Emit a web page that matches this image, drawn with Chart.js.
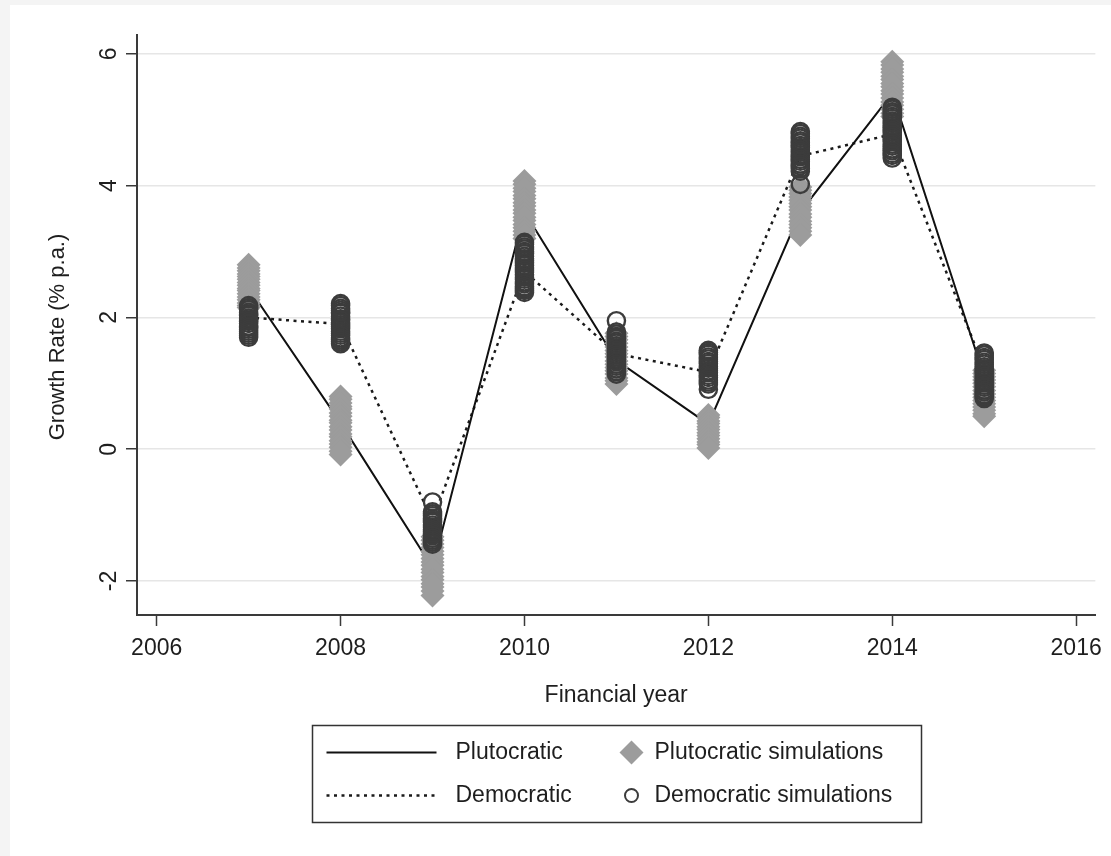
<!DOCTYPE html>
<html>
<head>
<meta charset="utf-8">
<script src="https://cdn.jsdelivr.net/npm/chart.js@4.4.0/dist/chart.umd.min.js"></script>
<style>
  html, body { margin: 0; padding: 0; background: #fff; }
  canvas { display: block; }
</style>
</head>
<body>
<canvas id="growth" width="1111" height="856"></canvas>
<script>
// Financial years and the two weighting schemes (growth, % p.a.)
const years = [2007, 2008, 2009, 2010, 2011, 2012, 2013, 2014, 2015];
const plutocratic = [2.45, 0.40, -1.80, 3.60, 1.35, 0.38, 3.60, 5.40, 1.10];
const democratic  = [2.00, 1.90, -1.08, 2.70, 1.45, 1.17, 4.45, 4.78, 1.22];

// Simulated growth rates, one list per financial year
const plutocraticSimulations = [
  [2.80, 2.75, 2.71, 2.66, 2.62, 2.58, 2.53, 2.49, 2.44, 2.41, 2.36, 2.31, 2.27, 2.22, 2.18, 2.15],
  [0.80, 0.76, 0.70, 0.65, 0.61, 0.55, 0.50, 0.44, 0.40, 0.34, 0.29, 0.23, 0.19, 0.13, 0.08, 0.03, -0.03, -0.08],
  [-1.33, -1.38, -1.44, -1.49, -1.55, -1.60, -1.66, -1.71, -1.76, -1.82, -1.87, -1.93, -1.98, -2.04, -2.09, -2.15, -2.22],
  [4.07, 4.02, 3.96, 3.91, 3.85, 3.80, 3.74, 3.69, 3.63, 3.58, 3.52, 3.47, 3.41, 3.36, 3.31, 3.25, 3.20],
  [1.76, 1.71, 1.66, 1.61, 1.55, 1.50, 1.45, 1.40, 1.34, 1.29, 1.24, 1.19, 1.14, 1.08, 1.04, 0.99],
  [0.52, 0.48, 0.43, 0.39, 0.34, 0.30, 0.25, 0.21, 0.16, 0.11, 0.07, 0.02],
  [3.98, 3.93, 3.88, 3.83, 3.78, 3.73, 3.68, 3.63, 3.57, 3.52, 3.46, 3.41, 3.36, 3.31, 3.25],
  [5.88, 5.83, 5.77, 5.72, 5.66, 5.61, 5.55, 5.50, 5.44, 5.39, 5.33, 5.27, 5.22, 5.16, 5.10, 5.05],
  [1.20, 1.15, 1.10, 1.05, 1.00, 0.95, 0.89, 0.84, 0.79, 0.74, 0.69, 0.64, 0.59, 0.54, 0.50]
];
const democraticSimulations = [
  [2.18, 2.15, 2.12, 2.08, 2.05, 2.03, 1.99, 1.96, 1.94, 1.91, 1.87, 1.85, 1.82, 1.79, 1.76, 1.73, 1.70],
  [2.21, 2.18, 2.14, 2.11, 2.08, 2.06, 2.02, 1.98, 1.96, 1.92, 1.89, 1.86, 1.83, 1.79, 1.76, 1.73, 1.69, 1.66, 1.63, 1.60],
  [-0.80, -0.95, -0.98, -1.01, -1.05, -1.08, -1.11, -1.15, -1.18, -1.22, -1.25, -1.28, -1.31, -1.35, -1.38, -1.41, -1.44],
  [3.14, 3.11, 3.07, 3.04, 3.00, 2.97, 2.93, 2.89, 2.86, 2.83, 2.79, 2.75, 2.72, 2.69, 2.65, 2.61, 2.58, 2.54, 2.51, 2.47, 2.44, 2.41, 2.38],
  [1.95, 1.78, 1.75, 1.71, 1.68, 1.64, 1.61, 1.57, 1.54, 1.50, 1.47, 1.43, 1.40, 1.36, 1.33, 1.29, 1.26, 1.22, 1.18, 1.14],
  [1.50, 1.47, 1.44, 1.40, 1.37, 1.33, 1.30, 1.26, 1.23, 1.19, 1.16, 1.12, 1.09, 1.05, 1.02, 0.99, 0.91],
  [4.82, 4.79, 4.75, 4.72, 4.68, 4.65, 4.61, 4.58, 4.54, 4.51, 4.47, 4.44, 4.40, 4.37, 4.33, 4.30, 4.26, 4.22, 4.02],
  [5.19, 5.16, 5.12, 5.09, 5.05, 5.02, 4.98, 4.95, 4.91, 4.88, 4.84, 4.81, 4.77, 4.74, 4.70, 4.67, 4.63, 4.60, 4.56, 4.53, 4.49, 4.46, 4.42],
  [1.46, 1.43, 1.39, 1.36, 1.32, 1.29, 1.25, 1.22, 1.18, 1.15, 1.11, 1.08, 1.04, 1.01, 0.97, 0.94, 0.90, 0.87, 0.83, 0.80, 0.77]
];

// Axis ticks and titles
const xTicks = [2006, 2008, 2010, 2012, 2014, 2016];
const yTicks = [-2, 0, 2, 4, 6];
const xTitle = 'Financial year';
const yTitle = 'Growth Rate (% p.a.)';

const FONT = '"Liberation Sans", Arial, sans-serif';
const TEXT = '#1e1e1e';
const AXIS = '#3a3a3a';

const toPoints = (vals) => years.map((yr, i) => ({ x: yr, y: vals[i] }));
const simPoints = (lists) => lists.flatMap((vals, i) => vals.map(v => ({ x: years[i], y: v })));

// Light frame around the graph region
const framePlugin = {
  id: 'frame',
  beforeDraw(chart) {
    const { ctx, width, height } = chart;
    ctx.save();
    ctx.fillStyle = '#f4f4f4';
    ctx.fillRect(0, 0, width, height);
    ctx.fillStyle = '#ffffff';
    ctx.fillRect(10, 5, width - 10, height - 5);
    ctx.restore();
  }
};

// Vertical y-axis title, set a little below the middle of the plot region
const yTitlePlugin = {
  id: 'yTitle',
  afterDraw(chart) {
    const { ctx, chartArea } = chart;
    ctx.save();
    ctx.translate(58, (chartArea.top + chartArea.bottom) / 2 + 12);
    ctx.rotate(-Math.PI / 2);
    ctx.fillStyle = TEXT;
    ctx.font = '22px ' + FONT;
    ctx.textAlign = 'center';
    ctx.textBaseline = 'middle';
    ctx.fillText(yTitle, 0, 0);
    ctx.restore();
  }
};

// Boxed two-column legend below the x-axis title
const boxLegendPlugin = {
  id: 'boxLegend',
  afterDraw(chart) {
    const { ctx, chartArea } = chart;
    const ds = label => chart.data.datasets.find(d => d.label === label);
    const w = 609, h = 97;
    const x0 = Math.round((chartArea.left + chartArea.right) / 2 - w / 2) + 0.5;
    const y0 = 725.5;
    ctx.save();
    ctx.strokeStyle = '#333';
    ctx.lineWidth = 1.5;
    ctx.strokeRect(x0, y0, w, h);

    const r1 = y0 + 27, r2 = y0 + 70;
    const plu = ds('Plutocratic'), dem = ds('Democratic');
    const pSim = ds('Plutocratic simulations'), dSim = ds('Democratic simulations');

    // line samples
    ctx.lineWidth = plu.borderWidth;
    ctx.strokeStyle = plu.borderColor;
    ctx.setLineDash([]);
    ctx.beginPath(); ctx.moveTo(x0 + 14, r1); ctx.lineTo(x0 + 124, r1); ctx.stroke();
    ctx.lineWidth = dem.borderWidth;
    ctx.strokeStyle = dem.borderColor;
    ctx.setLineDash(dem.borderDash);
    ctx.beginPath(); ctx.moveTo(x0 + 14, r2); ctx.lineTo(x0 + 124, r2); ctx.stroke();
    ctx.setLineDash([]);

    // marker samples
    const mx = x0 + 319;
    ctx.fillStyle = pSim.backgroundColor;
    ctx.beginPath();
    ctx.moveTo(mx - 12, r1); ctx.lineTo(mx, r1 - 12); ctx.lineTo(mx + 12, r1); ctx.lineTo(mx, r1 + 12);
    ctx.closePath(); ctx.fill();
    ctx.strokeStyle = dSim.borderColor;
    ctx.lineWidth = 2;
    ctx.beginPath(); ctx.arc(mx, r2, 6.5, 0, Math.PI * 2); ctx.stroke();

    // labels
    ctx.fillStyle = TEXT;
    ctx.font = '23px ' + FONT;
    ctx.textBaseline = 'middle';
    ctx.textAlign = 'left';
    ctx.fillText(plu.label, x0 + 143, r1);
    ctx.fillText(dem.label, x0 + 143, r2);
    ctx.fillText(pSim.label, x0 + 342, r1);
    ctx.fillText(dSim.label, x0 + 342, r2);
    ctx.restore();
  }
};

new Chart(document.getElementById('growth'), {
  type: 'scatter',
  data: {
    datasets: [
      {
        label: 'Democratic simulations',
        data: simPoints(democraticSimulations),
        pointStyle: 'circle',
        pointRadius: 8.6,
        pointBorderWidth: 2.4,
        pointBorderColor: '#3c3c3c',
        pointBackgroundColor: 'rgba(0,0,0,0)',
        borderColor: '#3c3c3c',
        backgroundColor: 'rgba(0,0,0,0)',
        showLine: false,
        order: 0
      },
      {
        label: 'Plutocratic simulations',
        data: simPoints(plutocraticSimulations),
        pointStyle: 'rectRot',
        pointRadius: 12,
        pointBorderWidth: 0,
        pointBackgroundColor: '#9c9c9c',
        pointBorderColor: '#9c9c9c',
        backgroundColor: '#9c9c9c',
        borderColor: '#9c9c9c',
        showLine: false,
        order: 1
      },
      {
        label: 'Plutocratic',
        data: toPoints(plutocratic),
        showLine: true,
        borderColor: '#111111',
        borderWidth: 2,
        pointRadius: 0,
        tension: 0,
        order: 2
      },
      {
        label: 'Democratic',
        data: toPoints(democratic),
        showLine: true,
        borderColor: '#1a1a1a',
        borderWidth: 2.5,
        borderDash: [3, 4.5],
        pointRadius: 0,
        tension: 0,
        order: 3
      }
    ]
  },
  options: {
    responsive: false,
    animation: false,
    devicePixelRatio: 1,
    layout: { padding: { left: 10, top: 35, right: 13, bottom: 141 } },
    plugins: { legend: { display: false }, tooltip: { enabled: false } },
    scales: {
      x: {
        type: 'linear',
        min: 2005.786,
        max: 2016.209,
        afterBuildTicks: s => { s.ticks = xTicks.map(v => ({ value: v })); },
        afterFit: s => { s.height = 100; },
        ticks: {
          autoSkip: false, maxRotation: 0, minRotation: 0, padding: 9,
          color: TEXT, font: { family: FONT, size: 23 },
          callback: v => String(v)
        },
        grid: { drawOnChartArea: false, drawTicks: true, tickLength: 11, tickColor: AXIS, tickWidth: 1.5 },
        border: { display: true, color: AXIS, width: 2 },
        title: {
          display: true, text: xTitle, color: TEXT,
          font: { family: FONT, size: 23 }, padding: { top: 0, bottom: 6 }
        }
      },
      y: {
        type: 'linear',
        min: -2.516,
        max: 6.287,
        afterBuildTicks: s => { s.ticks = yTicks.map(v => ({ value: v })); },
        afterFit: s => { s.width = 127; },
        ticks: {
          autoSkip: false, minRotation: 90, maxRotation: 90, crossAlign: 'center', padding: 6,
          color: TEXT, font: { family: FONT, size: 23 },
          callback: v => String(v)
        },
        grid: { color: '#e6e6e6', lineWidth: 1.5, drawTicks: true, tickLength: 11, tickColor: AXIS, tickWidth: 1.5 },
        border: { display: true, color: AXIS, width: 2 },
        title: { display: false }
      }
    }
  },
  plugins: [framePlugin, yTitlePlugin, boxLegendPlugin]
});
</script>
</body>
</html>
